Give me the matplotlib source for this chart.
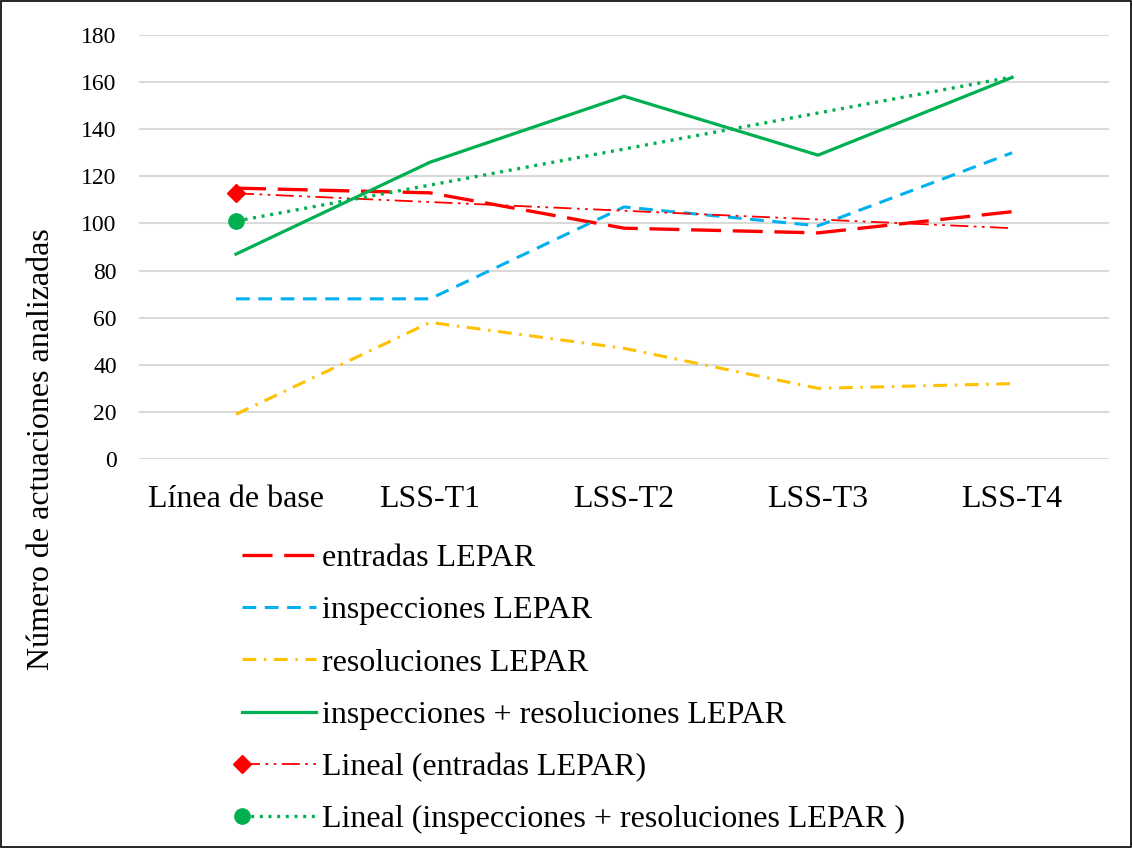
import matplotlib.pyplot as plt
import numpy as np
from matplotlib.patches import Rectangle
from matplotlib.legend_handler import HandlerLine2D

plt.rcParams['font.family'] = ['Liberation Serif', 'DejaVu Serif']

categorias = ['Línea de base', 'LSS-T1', 'LSS-T2', 'LSS-T3', 'LSS-T4']
entradas = [115, 113, 98, 96, 105]
inspecciones = [68, 68, 107, 99, 130]
resoluciones = [19, 58, 47, 30, 32]
insp_res = [87, 126, 154, 129, 162]

x = np.arange(len(categorias))

# lineas de tendencia (regresion lineal, como en Excel)
tend_entradas = np.polyval(np.polyfit(x, entradas, 1), x)
tend_insp_res = np.polyval(np.polyfit(x, insp_res, 1), x)


class MarcadorIzq(HandlerLine2D):
    # marcador solo en el extremo izquierdo de la muestra, como Excel
    def create_artists(self, *args, **kwargs):
        artists = super().create_artists(*args, **kwargs)
        artists[0].set_markevery([0])
        return artists


fig = plt.figure(figsize=(11.32, 8.48), dpi=100)
ax = fig.add_axes([0.1228, 0.4587, 0.857, 0.5])

ax.plot(x, entradas, color='#FF0000', lw=2.4, dashes=(9, 3.5),
        label='entradas LEPAR', zorder=3)
ax.plot(x, inspecciones, color='#00B0F0', lw=2.2, dashes=(4.5, 2.8),
        label='inspecciones LEPAR', zorder=3)
ax.plot(x, resoluciones, color='#FFC000', lw=2.2, dashes=(4.5, 2.5, 0.8, 2.5),
        label='resoluciones LEPAR', zorder=3)
ax.plot(x, insp_res, color='#00B050', lw=2.3, label='inspecciones + resoluciones LEPAR',
        zorder=3)
l5, = ax.plot(x, tend_entradas, color='#FF0000', lw=1.3, dashes=(10, 3, 1.5, 3, 1.5, 3),
              marker='D', markersize=9, markevery=[0], label='Lineal (entradas LEPAR)',
              zorder=4)
l6, = ax.plot(x, tend_insp_res, color='#00B050', lw=2.4, dashes=(0.9, 1.7),
              marker='o', markersize=11, markevery=[0],
              label='Lineal (inspecciones + resoluciones LEPAR )', zorder=4)

ax.set_xlim(-0.5, 4.5)
ax.set_ylim(0, 180)
ax.set_yticks(range(0, 181, 20))
ax.set_xticks(x)
ax.set_xticklabels(categorias, fontsize=23)
ax.tick_params(axis='y', labelsize=17, length=0, pad=16)
ax.tick_params(axis='x', length=0, pad=19)
ax.grid(axis='y', color='#D9D9D9', lw=1.5)
ax.set_axisbelow(True)
for s in ax.spines.values():
    s.set_visible(False)

fig.text(0.037, 0.47, 'Número de actuaciones analizadas', rotation=90,
         fontsize=23, va='center', ha='center')

fig.legend(loc='upper left', bbox_to_anchor=(0.2, 0.3776), frameon=False,
           fontsize=23, handlelength=2.3, handletextpad=0.2, labelspacing=0.715,
           borderpad=0, numpoints=1,
           handler_map={l5: MarcadorIzq(numpoints=2, marker_pad=0),
                        l6: MarcadorIzq(numpoints=2, marker_pad=0)})

fig.patches.append(Rectangle((0.001, 0.001), 0.998, 0.998, transform=fig.transFigure,
                             fill=False, edgecolor='black', lw=1.2))

fig.savefig('out.png', dpi=100)
